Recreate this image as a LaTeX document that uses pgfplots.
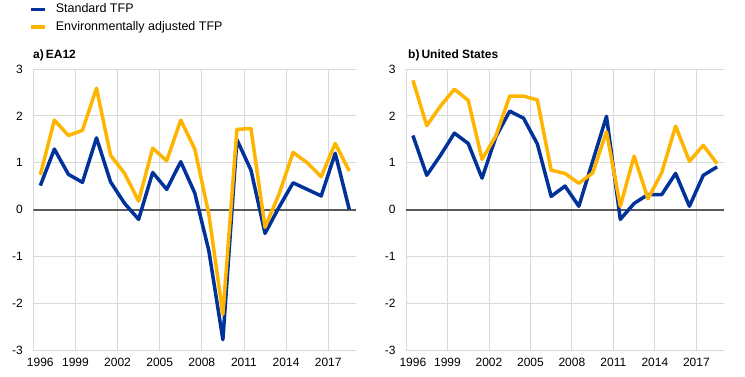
\documentclass[border=0pt]{standalone}
\usepackage{fontspec}
\setmainfont{Liberation Sans}
\usepackage{pgfplots}
\pgfplotsset{compat=1.18}
\usepackage{pgfplotstable}
\definecolor{ecbblue}{HTML}{003299}
\definecolor{ecbyellow}{HTML}{FFB400}
\definecolor{gridgray}{HTML}{D9D9D9}
\definecolor{zerogray}{HTML}{595959}

\pgfplotstableread{
year std env
1996 0.51 0.74
1997 1.29 1.91
1998 0.75 1.58
1999 0.58 1.69
2000 1.53 2.59
2001 0.59 1.16
2002 0.13 0.77
2003 -0.21 0.18
2004 0.79 1.31
2005 0.43 1.04
2006 1.02 1.91
2007 0.35 1.29
2008 -0.88 -0.10
2009 -2.78 -2.24
2010 1.49 1.71
2011 0.84 1.73
2012 -0.51 -0.38
2013 0.05 0.33
2014 0.57 1.22
2015 0.43 1.00
2016 0.29 0.70
2017 1.20 1.41
2018 0.00 0.82
}\eatable

\pgfplotstableread{
year std env
1996 1.58 2.76
1997 0.73 1.79
1998 1.16 2.21
1999 1.63 2.57
2000 1.41 2.33
2001 0.67 1.07
2002 1.55 1.57
2003 2.10 2.42
2004 1.95 2.42
2005 1.40 2.34
2006 0.28 0.84
2007 0.50 0.77
2008 0.07 0.56
2009 1.03 0.78
2010 1.99 1.66
2011 -0.21 0.07
2012 0.13 1.14
2013 0.32 0.23
2014 0.32 0.79
2015 0.77 1.78
2016 0.07 1.03
2017 0.73 1.37
2018 0.91 0.98
}\ustable

\pgfplotsset{
  panel/.style={
    scale only axis,
    height=281bp,
    xmin=1995.5, xmax=2018.5, ymin=-3, ymax=3,
    axis line style={draw=none},
    major tick length=0pt,
    xtick={1995.5,1998.5,2001.5,2004.5,2007.5,2010.5,2013.5,2016.5},
    xticklabels={,1999,2002,2005,2008,2011,2014,2017},
    extra x ticks={1996},
    extra x tick labels={1996},
    extra x tick style={grid=none},
    ytick={-3,-2,-1,0,1,2,3},
    yticklabels={-3,-2,-1,0,1,2,3},
    grid=major,
    major grid style={draw=gridgray, line width=0.9bp},
    tick label style={font=\fontsize{12bp}{14bp}\selectfont, text=black},
    yticklabel style={xshift=-7bp},
    xticklabel style={yshift=-5bp},
    legend image code/.code={\draw[line width=3.5bp] (0bp,0bp) -- (14bp,0bp);},
  },
  stdline/.style={ecbblue, line width=3.5bp, line join=round},
  envline/.style={ecbyellow, line width=3.5bp, line join=round},
}

\begin{document}
\begin{tikzpicture}
\path[use as bounding box] (0,0) rectangle (745bp,377bp);

\begin{axis}[panel, width=323bp, at={(33.3bp,27bp)}, anchor=south west,
  legend cell align=left,
  legend style={draw=none, fill=none, at={(rel axis cs:0,1)}, anchor=north west,
    xshift=-4bp, yshift=67.5bp, inner sep=0pt, outer sep=0pt, row sep=2bp,
    font=\fontsize{12.5bp}{15bp}\selectfont,
    nodes={inner sep=2bp, text height=9bp, text depth=2.5bp},
    /tikz/every odd column/.style={column sep=7bp}},
]
\addplot[zerogray, line width=2bp, forget plot] coordinates {(1995.5,0) (2018.5,0)};
\addplot[stdline] table[x=year, y=std] {\eatable};
\addplot[envline] table[x=year, y=env] {\eatable};
\legend{Standard TFP, Environmentally adjusted TFP}
\end{axis}

\begin{axis}[panel, width=318bp, at={(406bp,27bp)}, anchor=south west]
\addplot[zerogray, line width=2bp, forget plot] coordinates {(1995.5,0) (2018.5,0)};
\addplot[stdline] table[x=year, y=std] {\ustable};
\addplot[envline] table[x=year, y=env] {\ustable};
\end{axis}

\node[anchor=base west, inner sep=0pt, font=\bfseries\fontsize{12bp}{14bp}\selectfont] at (33bp,318.5bp) {a)\,EA12};
\node[anchor=base west, inner sep=0pt, font=\bfseries\fontsize{12bp}{14bp}\selectfont] at (408bp,318.5bp) {b)\,United States};
\end{tikzpicture}
\end{document}
